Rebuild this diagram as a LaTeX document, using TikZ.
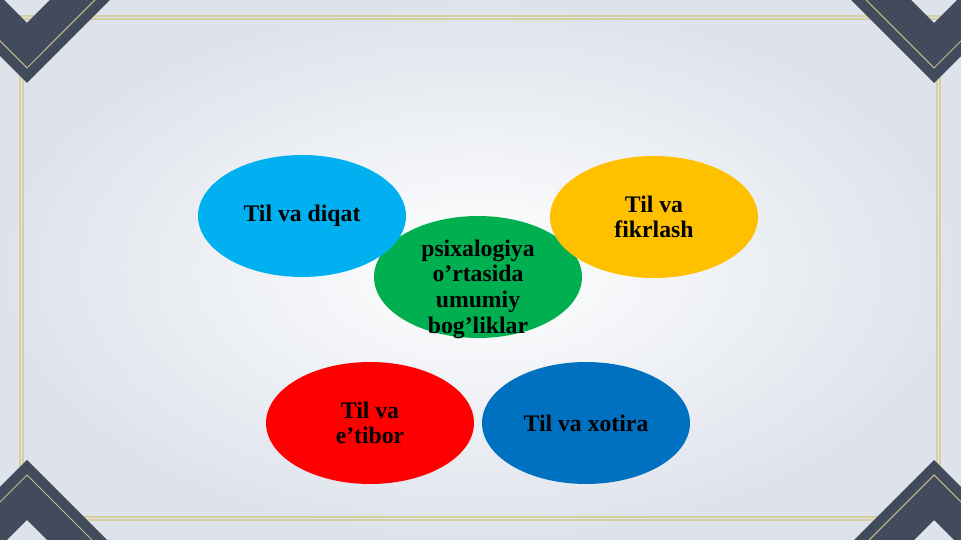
\documentclass[tikz,border=0pt]{standalone}
\usepackage{fontspec}
\setmainfont{Liberation Serif}
\usetikzlibrary{shapes.geometric}
\definecolor{hellblau}{RGB}{0,176,240}
\definecolor{gruen}{RGB}{0,176,80}
\definecolor{gelb}{RGB}{255,192,0}
\definecolor{rot}{RGB}{255,0,0}
\definecolor{dunkelblau}{RGB}{0,112,192}
\definecolor{schiefer}{RGB}{65,75,92}
\definecolor{gold}{RGB}{200,186,140}
\definecolor{rahmengold}{RGB}{214,207,160}
\definecolor{hintergrund}{RGB}{222,227,235}
\begin{document}
\begin{tikzpicture}[x=0.02cm, y=-0.02cm,
    blase/.style={ellipse, inner sep=0pt, minimum width=4.16cm, minimum height=2.44cm, align=center, font=\bfseries\fontsize{13.5}{14.6}\selectfont},
    ecke/.style={fill=schiefer},
    goldlinie/.style={draw=gold, line width=0.6pt},
    rahmen/.style={draw=rahmengold, line width=0.6pt}]
    \useasboundingbox (0,0) rectangle (961,540);
    \shade[inner color=white, outer color=hintergrund] (0,0) rectangle (961,540);

    % Zeichne den Rahmen und die Ecken
    \draw[rahmen] (20,16) rectangle (940,520);
    \draw[rahmen] (23,19) rectangle (937,517);
    \begin{scope}
    \clip (0,0) rectangle (961,540);
    \fill[ecke] (110,0) -- (27,83) -- (-56,0) -- (4,0) -- (27,23) -- (50,0) -- cycle;
    \fill[ecke] (851,0) -- (934,83) -- (1017,0) -- (957,0) -- (934,23) -- (911,0) -- cycle;
    \fill[ecke] (107,540) -- (27,460) -- (-53,540) -- (7,540) -- (27,520) -- (47,540) -- cycle;
    \fill[ecke] (854,540) -- (934,460) -- (1014,540) -- (954,540) -- (934,520) -- (914,540) -- cycle;
    \draw[goldlinie] (95,0) -- (27,68) -- (-41,0);
    \draw[goldlinie] (866,0) -- (934,68) -- (1002,0);
    \draw[goldlinie] (92,540) -- (27,475) -- (-38,540);
    \draw[goldlinie] (869,540) -- (934,475) -- (999,540);
    \end{scope}

    \node (mitte) [blase, fill=gruen] at (478,277) {};
    \node (diqat) [blase, fill=hellblau] at (302,216) {Til va diqat};
    \node (fikr) [blase, fill=gelb] at (654,217) {Til va\\fikrlash};
    \node (etibor) [blase, fill=rot] at (370,423) {Til va\\e’tibor};
    \node (xotira) [blase, fill=dunkelblau] at (586,423) {Til va xotira};
    \node (mittetext) [align=center, inner sep=0pt, font=\bfseries\fontsize{13.5}{14.6}\selectfont] at (478,289) {psixalogiya\\o’rtasida\\umumiy\\bog’liklar};
\end{tikzpicture}
\end{document}
